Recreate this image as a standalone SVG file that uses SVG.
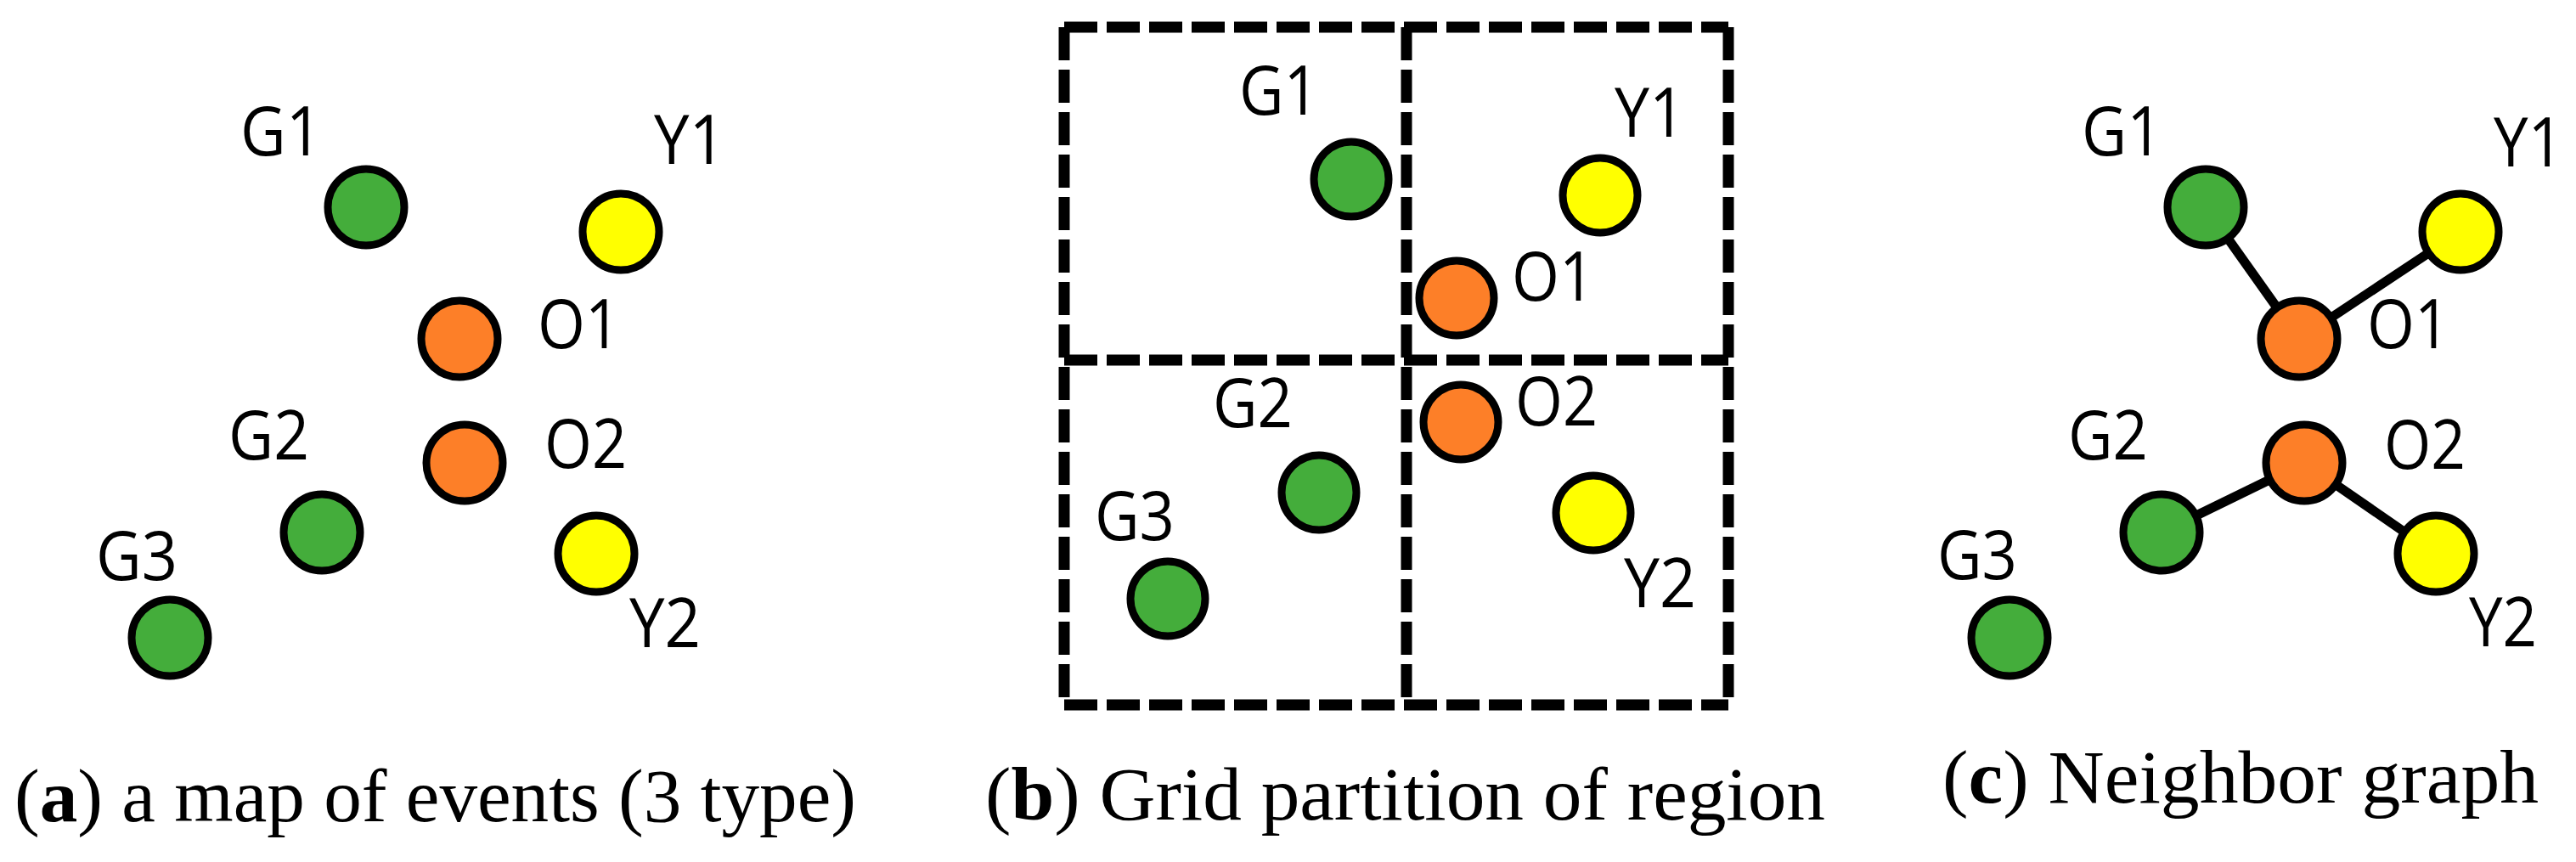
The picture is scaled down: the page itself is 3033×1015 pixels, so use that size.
<svg xmlns="http://www.w3.org/2000/svg" width="3033" height="1015" viewBox="0 0 3033 1015">
<style>
.n{stroke:#000;stroke-width:9}
.g{fill:#44AD3B}
.y{fill:#FFFF00}
.o{fill:#FD7F28}
.lb{font-family:"Open Sans","Noto Sans",sans-serif;font-size:80px;fill:#000}
.cap{font-family:"Liberation Serif","Times New Roman",serif;font-size:88px;fill:#000}
.grid{stroke:#000;stroke-width:13;stroke-dasharray:39 11;fill:none}
.e{stroke:#000;stroke-width:11;fill:none}
</style>
<rect width="3033" height="1015" fill="#fff"/>

<!-- Panel b grid -->
<g id="grid" class="grid">
<path d="M1253,32 H2035"/>
<path d="M1253,424 H2035"/>
<path d="M1253,830 H2035"/>
<path d="M1253,32 V830"/>
<path d="M1656,32 V830"/>
<path d="M2035,32 V830"/>
</g>

<!-- Connectors (panel c) -->
<g id="connectors" class="e">
<line x1="2597" y1="244" x2="2707" y2="399"/>
<line x1="2707" y1="399" x2="2897" y2="273"/>
<line x1="2545" y1="627" x2="2713" y2="545"/>
<line x1="2713" y1="545" x2="2868" y2="652"/>
</g>

<!-- Panel a -->
<g id="a-G1"><circle class="n g" cx="431" cy="244" r="45"/><text class="lb" x="283" y="183" textLength="96" lengthAdjust="spacingAndGlyphs">G1</text></g>
<g id="a-Y1"><circle class="n y" cx="731" cy="273" r="45"/><text class="lb" x="770" y="193" textLength="84" lengthAdjust="spacingAndGlyphs">Y1</text></g>
<g id="a-O1"><circle class="n o" cx="541" cy="399" r="45"/><text class="lb" x="633" y="410" textLength="97" lengthAdjust="spacingAndGlyphs">O1</text></g>
<g id="a-O2"><circle class="n o" cx="547" cy="545" r="45"/><text class="lb" x="641" y="551" textLength="97" lengthAdjust="spacingAndGlyphs">O2</text></g>
<g id="a-G2"><circle class="n g" cx="379" cy="627" r="45"/><text class="lb" x="269" y="541" textLength="95" lengthAdjust="spacingAndGlyphs">G2</text></g>
<g id="a-Y2"><circle class="n y" cx="702" cy="652" r="45"/><text class="lb" x="741" y="762" textLength="84" lengthAdjust="spacingAndGlyphs">Y2</text></g>
<g id="a-G3"><circle class="n g" cx="200" cy="751" r="45"/><text class="lb" x="113" y="683" textLength="96" lengthAdjust="spacingAndGlyphs">G3</text></g>

<!-- Panel b -->
<g id="b-G1"><circle class="n g" cx="1591" cy="211" r="44"/><text class="lb" x="1459" y="135" textLength="94" lengthAdjust="spacingAndGlyphs">G1</text></g>
<g id="b-Y1"><circle class="n y" cx="1884" cy="230" r="44"/><text class="lb" x="1901" y="161" textLength="83" lengthAdjust="spacingAndGlyphs">Y1</text></g>
<g id="b-O1"><circle class="n o" cx="1715" cy="351" r="44"/><text class="lb" x="1780" y="354" textLength="97" lengthAdjust="spacingAndGlyphs">O1</text></g>
<g id="b-O2"><circle class="n o" cx="1720" cy="497" r="44"/><text class="lb" x="1784" y="501" textLength="97" lengthAdjust="spacingAndGlyphs">O2</text></g>
<g id="b-G2"><circle class="n g" cx="1553" cy="580" r="44"/><text class="lb" x="1428" y="503" textLength="94" lengthAdjust="spacingAndGlyphs">G2</text></g>
<g id="b-Y2"><circle class="n y" cx="1876" cy="604" r="44"/><text class="lb" x="1912" y="715" textLength="85" lengthAdjust="spacingAndGlyphs">Y2</text></g>
<g id="b-G3"><circle class="n g" cx="1375" cy="705" r="44"/><text class="lb" x="1289" y="636" textLength="94" lengthAdjust="spacingAndGlyphs">G3</text></g>

<!-- Panel c -->
<g id="c-G1"><circle class="n g" cx="2597" cy="244" r="45"/><text class="lb" x="2451" y="183" textLength="95" lengthAdjust="spacingAndGlyphs">G1</text></g>
<g id="c-Y1"><circle class="n y" cx="2897" cy="273" r="45"/><text class="lb" x="2936" y="196" textLength="82" lengthAdjust="spacingAndGlyphs">Y1</text></g>
<g id="c-O1"><circle class="n o" cx="2707" cy="399" r="45"/><text class="lb" x="2787" y="410" textLength="97" lengthAdjust="spacingAndGlyphs">O1</text></g>
<g id="c-O2"><circle class="n o" cx="2713" cy="545" r="45"/><text class="lb" x="2807" y="552" textLength="96" lengthAdjust="spacingAndGlyphs">O2</text></g>
<g id="c-G2"><circle class="n g" cx="2545" cy="627" r="45"/><text class="lb" x="2435" y="541" textLength="94" lengthAdjust="spacingAndGlyphs">G2</text></g>
<g id="c-Y2"><circle class="n y" cx="2868" cy="652" r="45"/><text class="lb" x="2907" y="761" textLength="80" lengthAdjust="spacingAndGlyphs">Y2</text></g>
<g id="c-G3"><circle class="n g" cx="2366" cy="751" r="45"/><text class="lb" x="2281" y="682" textLength="94" lengthAdjust="spacingAndGlyphs">G3</text></g>

<!-- Captions -->
<g id="captions">
<text class="cap" x="17" y="967" textLength="991" lengthAdjust="spacingAndGlyphs">(<tspan font-weight="bold">a</tspan>) a map of events (3 type)</text>
<text class="cap" x="1160" y="965" textLength="989" lengthAdjust="spacingAndGlyphs">(<tspan font-weight="bold">b</tspan>) Grid partition of region</text>
<text class="cap" x="2287" y="945" textLength="702" lengthAdjust="spacingAndGlyphs">(<tspan font-weight="bold">c</tspan>) Neighbor graph</text>
</g>
</svg>
